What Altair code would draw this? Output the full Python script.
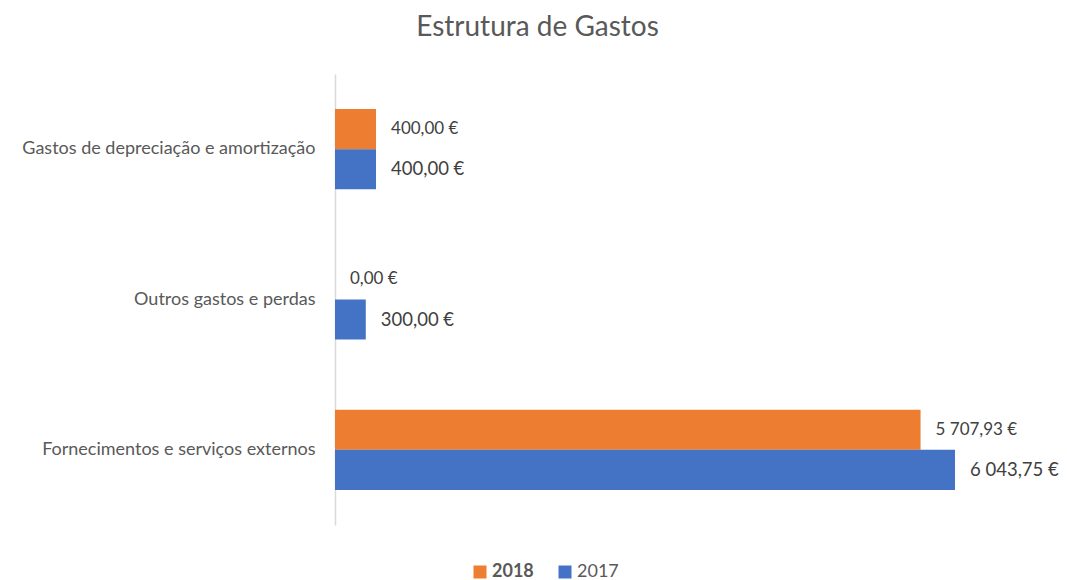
import altair as alt
import pandas as pd

categories = ["Gastos de depreciação e amortização", "Outros gastos e perdas", "Fornecimentos e serviços externos"]
years = ["2018", "2017"]
v2018 = [400.00, 0.00, 5707.93]
v2017 = [400.00, 300.00, 6043.75]
labels2018 = ["400,00 €", "0,00 €", "5 707,93 €"]
labels2017 = ["400,00  €", "300,00  €", "6 043,75  €"]
colors = ["#ED7D31", "#4472C4"]

rows = []
for c, a, la, b, lb in zip(categories, v2018, labels2018, v2017, labels2017):
    rows.append({"cat": c, "year": "2018", "value": a, "label": la})
    rows.append({"cat": c, "year": "2017", "value": b, "label": lb})
df = pd.DataFrame(rows)

FONT = "Lato"

y_enc = alt.Y("cat:N", sort=categories, title=None,
              scale=alt.Scale(paddingInner=0.4667, paddingOuter=0.2333),
              axis=alt.Axis(ticks=False, labelPadding=20, labelFont=FONT, labelFontSize=18,
                            labelColor="#595959", domainColor="#D9D9D9", domainWidth=1.5,
                            labelLimit=400))
yoff = alt.YOffset("year:N", sort=years, scale=alt.Scale(paddingInner=0, paddingOuter=0))
x_enc = alt.X("value:Q", scale=alt.Scale(domain=[0, 7018.4], nice=False), axis=None)

bars = alt.Chart(df).mark_bar().encode(
    y=y_enc, yOffset=yoff, x=x_enc,
    color=alt.Color("year:N", sort=years,
                    scale=alt.Scale(domain=years, range=colors),
                    legend=alt.Legend(title=None, orient="none", legendX=136, legendY=489,
                                      direction="horizontal", symbolType="square",
                                      symbolSize=169, symbolStrokeWidth=0,
                                      labelFont=FONT, labelFontSize=18, labelColor="#595959",
                                      labelFontWeight=alt.ExprRef("datum.label == '2018' ? 'bold' : 'normal'"),
                                      labelOffset=3, columnPadding=22))
)

text = alt.Chart(df).mark_text(align="left", baseline="middle", dx=15, font=FONT,
                               color="#404040").encode(
    y=alt.Y("cat:N", sort=categories), yOffset=alt.YOffset("year:N", sort=years),
    x=alt.X("value:Q"),
    text="label:N",
    size=alt.condition("datum.year == '2018'", alt.value(17), alt.value(18.5)),
)

chart = (bars + text).properties(
    width=720, height=451,
    title=alt.TitleParams("Estrutura de Gastos", font=FONT, fontSize=28, fontWeight="normal",
                          color="#595959", anchor="middle", dx=-157.5, offset=10,
                          baseline="alphabetic"),
    autosize=alt.AutoSizeParams(type="none"),
    padding={"left": 327, "top": 66, "right": 4, "bottom": 57},
).configure_view(stroke=None)

chart.save("out.html", embed_options={"renderer": "svg", "actions": False})
